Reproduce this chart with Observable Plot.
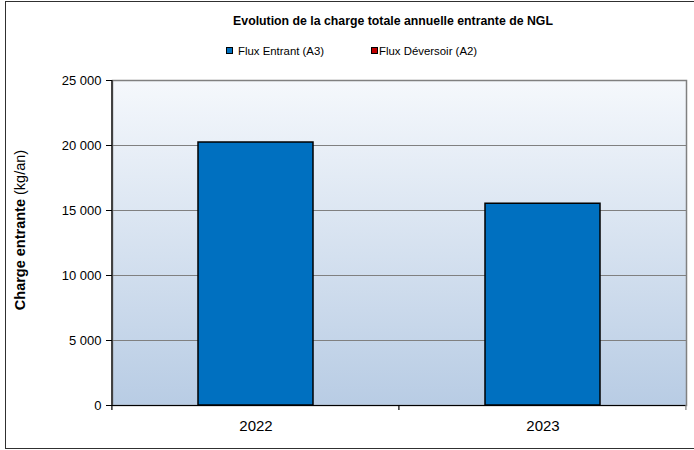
<!DOCTYPE html>
<html><head><meta charset="utf-8">
<script src="https://cdn.jsdelivr.net/npm/d3@7"></script>
<script src="https://cdn.jsdelivr.net/npm/@observablehq/plot@0.6"></script>
<style>
body{margin:0;background:#fff;font-family:"Liberation Sans",Arial,sans-serif;}
#wrap{position:relative;width:694px;height:450px;overflow:hidden;background:#fff;}
#wrap svg{position:absolute;left:0;top:0;}
#border{position:absolute;left:5px;top:1px;width:720px;height:448px;border:1.5px solid #303030;box-sizing:border-box;pointer-events:none;}
#title{position:absolute;left:93px;width:600px;top:14px;text-align:center;font-weight:bold;font-size:12.3px;color:#000;}
#legend{position:absolute;top:45px;left:0;width:694px;font-size:11.4px;color:#000;}
.li{position:absolute;top:0;white-space:nowrap;}
.sw{display:inline-block;width:5px;height:5px;border:1px solid #000;vertical-align:1px;}
</style></head>
<body>
<div id="wrap">
  <div id="title"></div>
  <div id="legend"></div>
  <div id="border"></div>
</div>
<script>
const years = ["2022", "2023"];
const fluxEntrant = [20230, 15520];
const fluxDeversoir = [0, 0];
const yTicks = [0, 5000, 10000, 15000, 20000, 25000];
const seriesNames = ["Flux Entrant (A3)", "Flux Déversoir (A2)"];
const seriesColors = ["#0070c0", "#c00000"];
const titleText = "Evolution de la charge totale annuelle entrante de NGL";
const yLabelBold = "Charge entrante";
const yLabelNormal = " (kg/an)";

const rows = years.flatMap((y, i) => [
  {year: y, series: seriesNames[0], value: fluxEntrant[i]},
  {year: y, series: seriesNames[1], value: fluxDeversoir[i]}
]);
const fmt = d3.formatLocale({thousands: "\u00a0", grouping: [3], decimal: ","}).format(",d");

const plot = Plot.plot({
  width: 694, height: 450,
  marginTop: 80, marginBottom: 45, marginLeft: 112, marginRight: 8,
  style: {fontFamily: "Liberation Sans, Arial, sans-serif", background: "transparent", color: "#000"},
  x: {domain: years, paddingInner: 0.6, paddingOuter: 0.3, label: null},
  y: {domain: [0, 25000], label: null},
  color: {domain: seriesNames, range: seriesColors},
  marks: [
    Plot.frame({fill: "url(#bgGrad)", stroke: "#808080", strokeWidth: 1.5}),
    Plot.gridY(yTicks, {stroke: "#808080", strokeOpacity: 1, strokeWidth: 1.2}),
    Plot.barY(rows, {x: "year", y: "value", fill: "series", stroke: "#000", strokeWidth: 1.5}),
    Plot.axisY(yTicks, {tickFormat: fmt, fontSize: 13, tickSize: 6, tickPadding: 5, label: null}),
    Plot.axisX({tickSize: 0, tickPadding: 15, fontSize: 15, label: null}),
    Plot.ruleY([0], {stroke: "#000", strokeWidth: 1.2})
  ]
});

const svg = d3.select(plot);
const defs = svg.insert("defs", ":first-child");
const g = defs.append("linearGradient").attr("id", "bgGrad").attr("x1", 0).attr("y1", 0).attr("x2", 0).attr("y2", 1);
g.append("stop").attr("offset", "0%").attr("stop-color", "#f5f8fc");
g.append("stop").attr("offset", "100%").attr("stop-color", "#b8cce4");

// Excel-style axis line and category-boundary ticks, from Plot's own scales
const xs = plot.scale("x"), ys = plot.scale("y");
const step = xs.step;
const x0 = xs.apply(years[0]) - step * xs.paddingOuter;
const yb = ys.apply(0), yt = ys.apply(25000);
const over = svg.append("g").attr("stroke", "#000").attr("stroke-width", 1.2);
over.append("line").attr("x1", x0).attr("x2", x0).attr("y1", yt).attr("y2", yb + 5);
for (let i = 1; i <= years.length; i++) {
  const xb = x0 + i * step;
  over.append("line").attr("x1", xb).attr("x2", xb).attr("y1", yb).attr("y2", yb + 5)
    .attr("stroke", i === years.length ? "#808080" : "#000");
}
// y axis title
const lab = svg.append("text")
  .attr("transform", `translate(25,230) rotate(-90)`)
  .attr("text-anchor", "middle")
  .attr("font-size", 14.5)
  .attr("font-family", "Liberation Sans, Arial, sans-serif");
lab.append("tspan").attr("font-weight", "bold").text(yLabelBold);
lab.append("tspan").text(yLabelNormal);

const wrap = document.getElementById("wrap");
wrap.insertBefore(plot, wrap.firstChild);
document.getElementById("title").textContent = titleText;
const legend = document.getElementById("legend");
const legendX = [226, 371];
const legendGap = [5, 1];
seriesNames.forEach((n, i) => {
  const d = document.createElement("div");
  d.className = "li";
  d.style.left = legendX[i] + "px";
  d.innerHTML = `<span class="sw" style="background:${seriesColors[i]};margin-right:${legendGap[i]}px"></span>`;
  d.appendChild(document.createTextNode(n));
  legend.appendChild(d);
});
</script>
</body></html>
